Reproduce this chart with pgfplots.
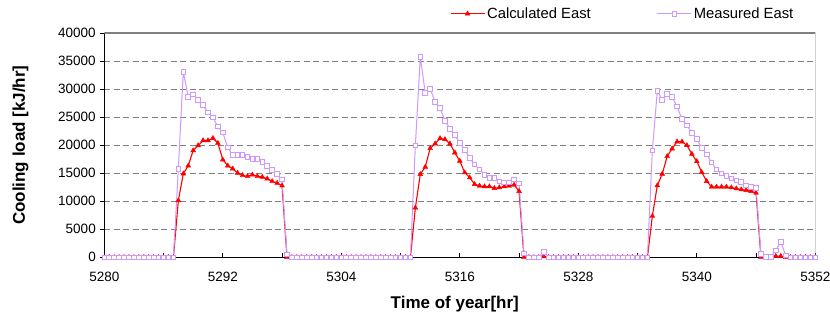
\documentclass[border=0pt]{standalone}
\usepackage{fontspec}
\setmainfont{Liberation Sans}
\usepackage{pgfplots}
\pgfplotsset{compat=1.18}
\usepackage{pgfplotstable}
\definecolor{meas}{HTML}{CC99FF}
\definecolor{calc}{HTML}{FF0000}

\pgfplotstableread{
t calc meas
5280.0 0 0
5280.5 0 0
5281.0 0 0
5281.5 0 0
5282.0 0 0
5282.5 0 0
5283.0 0 0
5283.5 0 0
5284.0 0 0
5284.5 0 0
5285.0 0 0
5285.5 0 0
5286.0 0 0
5286.5 0 0
5287.0 0 0
5287.5 10120 15800
5288.0 14910 33080
5288.5 16330 28580
5289.0 19050 29050
5289.5 19940 28050
5290.0 20830 27160
5290.5 20830 25800
5291.0 21240 24910
5291.5 20360 23310
5292.0 17400 22250
5292.5 16330 19590
5293.0 15800 18280
5293.5 15030 18280
5294.0 14620 18280
5294.5 14440 17870
5295.0 14730 17510
5295.5 14440 17510
5296.0 14320 17040
5296.5 14020 16330
5297.0 13550 15620
5297.5 13250 14850
5298.0 12780 13850
5298.5 0 530
5299.0 0 0
5299.5 0 0
5300.0 0 0
5300.5 0 0
5301.0 0 0
5301.5 0 0
5302.0 0 0
5302.5 0 0
5303.0 0 0
5303.5 0 0
5304.0 0 0
5304.5 0 0
5305.0 0 0
5305.5 0 0
5306.0 0 0
5306.5 0 0
5307.0 0 0
5307.5 0 0
5308.0 0 0
5308.5 0 0
5309.0 0 0
5309.5 0 0
5310.0 0 0
5310.5 0 0
5311.0 0 0
5311.5 8830 19960
5312.0 14810 35720
5312.5 16110 29320
5313.0 19430 30040
5313.5 20260 27730
5314.0 21210 26600
5314.5 21030 24350
5315.0 20260 22930
5315.5 18660 21800
5316.0 17180 20440
5316.5 15110 19190
5317.0 14220 17710
5317.5 13030 16590
5318.0 12740 15640
5318.5 12620 14690
5319.0 12620 14100
5319.5 12320 14100
5320.0 12440 13510
5320.5 12620 13330
5321.0 12740 13330
5321.5 12920 13860
5322.0 11790 13150
5322.5 0 700
5323.0 0 0
5323.5 0 0
5324.0 0 0
5324.5 150 950
5325.0 0 0
5325.5 0 0
5326.0 0 0
5326.5 0 0
5327.0 0 0
5327.5 0 0
5328.0 0 0
5328.5 0 0
5329.0 0 0
5329.5 0 0
5330.0 0 0
5330.5 0 0
5331.0 0 0
5331.5 0 0
5332.0 0 0
5332.5 0 0
5333.0 0 0
5333.5 0 0
5334.0 0 0
5334.5 0 0
5335.0 0 0
5335.5 7350 19080
5336.0 12800 29680
5336.5 14870 28080
5337.0 18010 29090
5337.5 19370 28550
5338.0 20620 26900
5338.5 20620 24640
5339.0 19960 23520
5339.5 18420 22220
5340.0 17120 21090
5340.5 15170 19490
5341.0 13570 18370
5341.5 12560 16940
5342.0 12560 15640
5342.5 12560 14930
5343.0 12560 14460
5343.5 12440 14040
5344.0 12260 13740
5344.5 12090 13450
5345.0 11970 12800
5345.5 11790 12500
5346.0 11490 12380
5346.5 0 590
5347.0 0 100
5347.5 0 100
5348.0 200 1240
5348.5 200 2730
5349.0 0 360
5349.5 0 0
5350.0 0 0
5350.5 0 0
5351.0 0 0
5351.5 0 0
5352.0 0 0
}\datatable

\begin{document}
\begin{tikzpicture}
\useasboundingbox (-104.3pt,-63.7pt) rectangle (725.7pt,257.3pt);
\begin{axis}[
  at={(0pt,0pt)}, anchor=south west,
  scale only axis, width=711pt, height=224.3pt,
  xmin=5280, xmax=5352, ymin=0, ymax=40000,
  xtick={5280,5292,...,5352},
  minor xtick={5286,5298,...,5346},
  ytick={0,5000,...,40000},
  scaled y ticks=false,
  /pgf/number format/assume math mode=true,
  /pgf/number format/set thousands separator={},
  tick label style={font=\fontsize{13.5}{16}\selectfont},
  xticklabel style={yshift=-11pt},
  yticklabel style={xshift=-5pt},
  axis x line*=bottom, axis y line*=left,
  axis line style={black, line width=0.9pt},
  tick align=inside,
  major tick length=4pt, minor tick length=4pt,
  tick style={black, line width=0.8pt},
  ytick style={xshift=-4pt},
  ymajorgrids,
  major grid style={dash pattern=on 6pt off 3.5pt, gray, line width=0.8pt},
  xlabel={Time of year[hr]},
  ylabel={Cooling load [kJ/hr]},
  label style={font=\bfseries\fontsize{17}{20}\selectfont},
  xlabel style={at={(axis description cs:0.493,-0.21)}, anchor=center},
  ylabel style={at={(axis description cs:-0.118,0.5)}, anchor=center},
  legend columns=2,
  legend style={draw=none, fill=none, at={(axis description cs:0.486,1)}, anchor=west, yshift=19.3pt, inner sep=0pt, font=\fontsize{14.8}{17}\selectfont, /tikz/every even column/.append style={column sep=64pt}},
  legend image code/.code={\draw[mark repeat=2,mark phase=2,#1] plot coordinates {(0pt,0pt) (17pt,0pt) (34pt,0pt)};},
]
\addplot[calc, line width=1.1pt, mark=triangle*, mark size=2.8pt, mark options={solid, fill=calc, draw=calc, line width=0.4pt}] table[x=t,y=calc]{\datatable};
\addlegendentry{Calculated East}
\addplot[meas, line width=1pt, mark=square*, mark size=2.3pt, mark options={solid, fill=white, draw=meas, line width=0.9pt}] table[x=t,y=meas]{\datatable};
\addlegendentry{Measured East}
\draw[gray, line width=1.2pt] (rel axis cs:0,1) -- (rel axis cs:1,1) -- (rel axis cs:1,0);
\end{axis}
\end{tikzpicture}
\end{document}
